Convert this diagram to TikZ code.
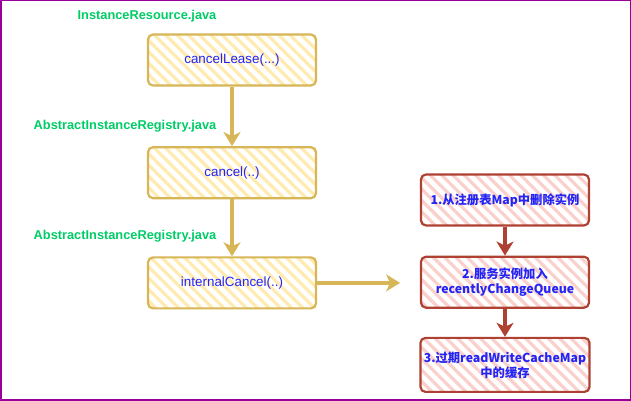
\documentclass[tikz,border=0pt]{standalone}
\usepackage{fontspec}
\setmainfont{Liberation Sans}
\newfontfamily\cjk{Noto Sans CJK SC}
\usepackage{tikz}
\usetikzlibrary{arrows.meta, positioning, patterns.meta}
\definecolor{ybord}{HTML}{D6B656}
\definecolor{yhatch}{HTML}{FFEAB0}
\definecolor{rbord}{HTML}{AE4132}
\definecolor{rhatch}{HTML}{F9D0CB}
\definecolor{txtblue}{HTML}{2424F5}
\definecolor{fgreen}{HTML}{00CC66}
\definecolor{frame}{HTML}{990099}

\begin{document}
\begin{tikzpicture}[x=1pt, y=1pt, font=\fontsize{13.4}{15}\selectfont,
    ybox/.style={draw=ybord, line width=2.2pt, rounded corners=5pt,
        pattern={Lines[angle=-45, distance=8pt, line width=3.2pt]}, pattern color=yhatch,
        minimum width=168pt, minimum height=51pt, text=txtblue},
    rbox/.style={draw=rbord, line width=2.2pt, rounded corners=5pt,
        pattern={Lines[angle=-45, distance=8pt, line width=3.2pt]}, pattern color=rhatch,
        minimum width=168pt, minimum height=51pt, text=txtblue, align=center,
        font=\fontsize{12.3}{15}\selectfont\cjk\bfseries},
    file/.style={text=fgreen, font=\fontsize{12.8}{15}\selectfont\bfseries},
    yarr/.style={draw=ybord, line width=3.6pt, -{Stealth[length=14pt, width=17pt, inset=4pt]}},
    rarr/.style={draw=rbord, line width=3.6pt, -{Stealth[length=14pt, width=17pt, inset=4pt]}}]
    \draw[frame, line width=1.5pt] (0.75,0.75) rectangle (630.25,400.25);
    \useasboundingbox (0,0) rectangle (631,401);

    \node[ybox] (lease) at (232,341) {cancelLease(...)};
    \node[ybox, below=59pt of lease] (cancel) {cancel(..)};
    \node[ybox, below=57pt of cancel] (internal) {internalCancel(..)};

    \node[file] (f1) at (147,385) {InstanceResource.java};
    \node[file] (f2) at (125,275) {AbstractInstanceRegistry.java};
    \node[file] (f3) at (125,165) {AbstractInstanceRegistry.java};

    \node[rbox] (remove) at (505,201) {1.从注册表Map中删除实例};
    \node[rbox, below=29pt of remove] (queue) {2.服务实例加入\\recentlyChangeQueue};
    \node[rbox, below=28pt of queue, minimum height=54pt] (expire) {3.过期readWriteCacheMap\\中的缓存};
    \coordinate[right=83pt of internal.east] (out);

    \draw[yarr] (lease) -- (cancel);
    \draw[yarr] (cancel) -- (internal);
    \draw[yarr] (internal) -- (out);
    \draw[rarr] (remove) -- (queue);
    \draw[rarr] (queue) -- (expire);
\end{tikzpicture}
\end{document}
